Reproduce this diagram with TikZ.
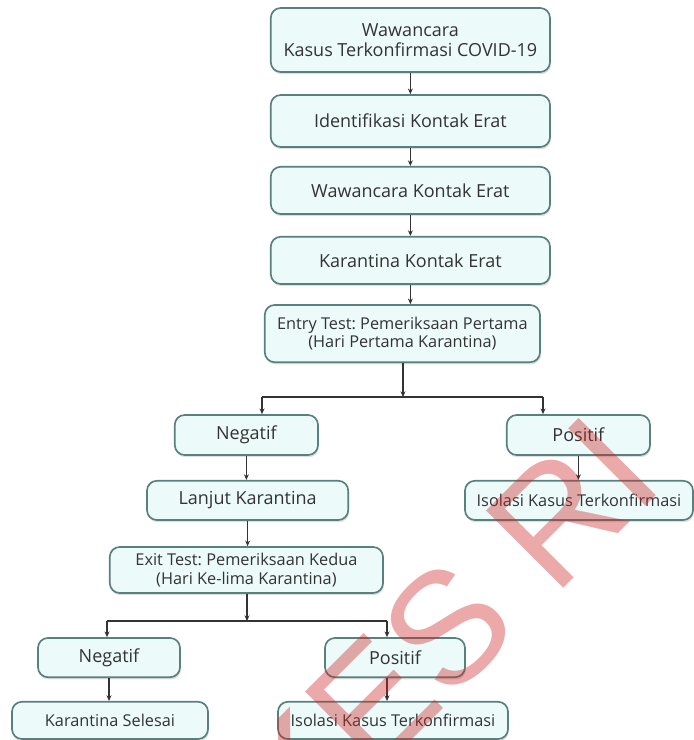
\documentclass[tikz,border=0pt]{standalone}
\usepackage{fontspec}
\setmainfont{Open Sans}
\newfontfamily\wmfont{Liberation Sans}
\usetikzlibrary{arrows.meta,shadows}
\frenchspacing

\definecolor{boxline}{RGB}{88,128,124}
\definecolor{boxfill}{RGB}{236,250,250}
\definecolor{wmred}{RGB}{205,40,40}

\tikzset{
  stepbox/.style={draw=boxline,fill=boxfill,line width=1.2pt,rounded corners=7pt,
    align=center,font=\fontsize{12.8}{14.5}\selectfont,text=black!80,inner sep=2pt,
    drop shadow={opacity=0.25,shadow xshift=0.6pt,shadow yshift=-1.6pt}},
  smalltext/.style={font=\fontsize{11.6}{13}\selectfont},
  link/.style={draw=black!80,line width=0.8pt,-{Stealth[length=4pt,width=3.5pt]}},
  branch/.style={draw=black!80,line width=1.1pt}
}

\begin{document}
\begin{tikzpicture}
\useasboundingbox (0,0) rectangle (17.35,18.5);

% alur utama
\node[stepbox,minimum width=6.98cm,minimum height=1.6cm] (wawancara) at (10.26,17.5)
  {Wawancara\\Kasus Terkonfirmasi COVID-19};
\node[stepbox,minimum width=6.98cm,minimum height=1.3cm] (identifikasi) at (10.26,15.475)
  {Identifikasi Kontak Erat};
\node[stepbox,minimum width=6.98cm,minimum height=1.18cm] (wawkontak) at (10.26,13.74)
  {Wawancara Kontak Erat};
\node[stepbox,minimum width=6.98cm,minimum height=1.18cm] (karantina) at (10.26,11.99)
  {Karantina Kontak Erat};
\node[stepbox,smalltext,minimum width=6.88cm,minimum height=1.43cm] (entry) at (10.06,10.16)
  {Entry Test: Pemeriksaan Pertama\\(Hari Pertama Karantina)};

% hasil entry test
\node[stepbox,minimum width=3.58cm,minimum height=1cm] (negatif1) at (6.16,7.625) {Negatif};
\node[stepbox,minimum width=3.58cm,minimum height=1cm] (positif1) at (14.46,7.625) {Positif};
\node[stepbox,minimum width=5.03cm,minimum height=0.98cm] (lanjut) at (6.19,5.99) {Lanjut Karantina};
\node[stepbox,smalltext,minimum width=5.7cm,minimum height=0.98cm] (isolasi1) at (14.475,5.99)
  {Isolasi Kasus Terkonfirmasi};
\node[stepbox,smalltext,minimum width=6.83cm,minimum height=1.15cm] (exit) at (6.16,4.25)
  {Exit Test: Pemeriksaan Kedua\\(Hari Ke-lima Karantina)};

% hasil exit test
\node[stepbox,minimum width=3.55cm,minimum height=0.98cm] (negatif2) at (2.725,2.06) {Negatif};
\node[stepbox,minimum width=3.5cm,minimum height=0.98cm] (positif2) at (9.875,2.06) {Positif};
\node[stepbox,smalltext,minimum width=4.9cm,minimum height=0.93cm] (selesai) at (2.75,0.49) {Karantina Selesai};
\node[stepbox,smalltext,minimum width=5.75cm,minimum height=0.93cm] (isolasi2) at (9.825,0.49)
  {Isolasi Kasus Terkonfirmasi};

\coordinate (cabang1) at (10.075,8.575);
\coordinate (kiri1) at (6.55,8.575);
\coordinate (kanan1) at (13.575,8.575);
\coordinate (cabang2) at (6.175,2.975);
\coordinate (kiri2) at (2.675,2.975);
\coordinate (kanan2) at (9.675,2.975);

\draw[link] (wawancara.south) -- (identifikasi.north);
\draw[link] (identifikasi.south) -- (wawkontak.north);
\draw[link] (wawkontak.south) -- (karantina.north);
\draw[link] (karantina.south) -- (karantina.south |- entry.north);
\draw[link] (entry.south -| cabang1) -- (cabang1);
\draw[branch] (kiri1) -- (kanan1);
\draw[link] (kiri1) -- (kiri1 |- negatif1.north);
\draw[link] (kanan1) -- (kanan1 |- positif1.north);
\draw[link] (negatif1.south) -- (negatif1.south |- lanjut.north);
\draw[link] (positif1.south) -- (positif1.south |- isolasi1.north);
\draw[link] (lanjut.south) -- (lanjut.south |- exit.north);
\draw[link] (exit.south -| cabang2) -- (cabang2);
\draw[branch] (kiri2) -- (kanan2);
\draw[link] (kiri2) -- (kiri2 |- negatif2.north);
\draw[link] (kanan2) -- (kanan2 |- positif2.north);
\draw[link] (negatif2.south) -- (negatif2.south |- selesai.north);
\draw[link] (kanan2 |- positif2.south) -- (kanan2 |- isolasi2.north);

% watermark
\begin{scope}
\clip (0,0) rectangle (17.35,18.5);
\node[text=wmred,opacity=0.4,rotate=45,anchor=base east,inner sep=0pt,
  font=\wmfont\fontsize{113}{113}\selectfont] (tanda) at (16.68,6.375) {KEMENKES RI};
\end{scope}
\end{tikzpicture}
\end{document}
